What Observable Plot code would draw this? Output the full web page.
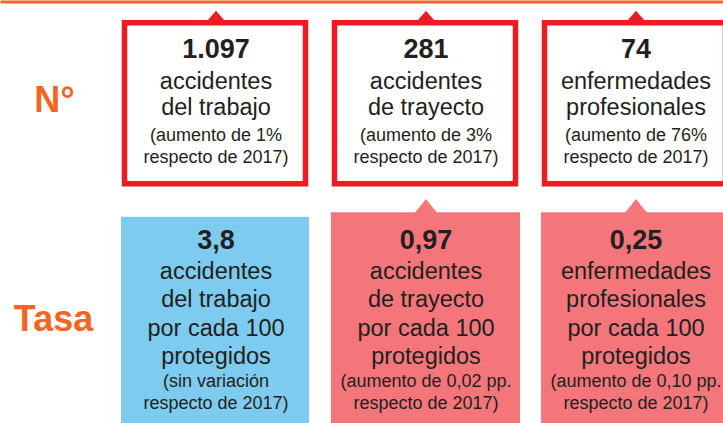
<!DOCTYPE html>
<html>
<head>
<meta charset="utf-8">
<script src="https://cdn.jsdelivr.net/npm/d3@7"></script>
<script src="https://cdn.jsdelivr.net/npm/@observablehq/plot@0.6"></script>
<style>
  html, body { margin: 0; padding: 0; background: #ffffff; }
  #chart { width: 723px; height: 423px; overflow: hidden; }
</style>
</head>
<body>
<div id="chart"></div>
<script>
// ---- data ----
const categories = ["accidentes del trabajo", "accidentes de trayecto", "enfermedades profesionales"];
const rows = ["N°", "Tasa"];

const countValues = ["1.097", "281", "74"];
const countLabels = [
  ["accidentes", "del trabajo"],
  ["accidentes", "de trayecto"],
  ["enfermedades", "profesionales"]
];
const countNotes = [
  ["(aumento de 1%", "respecto de 2017)"],
  ["(aumento de 3%", "respecto de 2017)"],
  ["(aumento de 76%", "respecto de 2017)"]
];
const countTrend = ["aumento", "aumento", "aumento"];

const rateValues = ["3,8", "0,97", "0,25"];
const rateLabels = [
  ["accidentes", "del trabajo", "por cada 100", "protegidos"],
  ["accidentes", "de trayecto", "por cada 100", "protegidos"],
  ["enfermedades", "profesionales", "por cada 100", "protegidos"]
];
const rateNotes = [
  ["(sin variación", "respecto de 2017)"],
  ["(aumento de 0,02 pp.", "respecto de 2017)"],
  ["(aumento de 0,10 pp.", "respecto de 2017)"]
];
const rateTrend = ["sin variación", "aumento", "aumento"];

// ---- table built from the arrays ----
const countBoxes = categories.map((c, i) => ({
  category: c, row: rows[0], value: countValues[i],
  label: countLabels[i].join("\n"), note: countNotes[i].join("\n"), trend: countTrend[i]
}));
const rateBoxes = categories.map((c, i) => ({
  category: c, row: rows[1], value: rateValues[i],
  label: rateLabels[i].join("\n"), note: rateNotes[i].join("\n"), trend: rateTrend[i]
}));

const ORANGE = "#f26522", RED = "#ed1c24", BLUE = "#7dcbee", PINK = "#f4767b", INK = "#231f20";

const upTriangle = (w, h) => ({
  draw(ctx) {
    ctx.moveTo(-w / 2, 2);
    ctx.lineTo(0, -h);
    ctx.lineTo(w / 2, 2);
    ctx.closePath();
  }
});

const chart = Plot.plot({
  width: 723,
  height: 423,
  margin: 0,
  style: {fontFamily: "'Liberation Sans', Arial, Helvetica, sans-serif", background: "#ffffff", color: INK},
  x: {type: "band", domain: categories, range: [120, 730], paddingInner: 0.102, paddingOuter: 0, axis: null},
  y: {type: "band", domain: rows, range: [0, 423], padding: 0, axis: null},
  color: {type: "ordinal", domain: ["sin variación", "aumento"], range: [BLUE, PINK]},
  marks: [
    // orange rule across the top
    Plot.frame({fill: ORANGE, stroke: "none", insetBottom: 420}),

    // row labels
    Plot.text(rows.slice(0, 1), {text: d => d, y: d => d, frameAnchor: "left", dx: 54, textAnchor: "middle",
      lineAnchor: "bottom", dy: 5, fontSize: 36, fontWeight: "bold", fill: ORANGE}),
    Plot.text(rows.slice(1, 2), {text: d => d, y: d => d, frameAnchor: "left", dx: 53, textAnchor: "middle",
      lineAnchor: "bottom", dy: 12.75, fontSize: 36, fontWeight: "bold", fill: ORANGE}),

    // top row: outlined boxes with up triangles
    Plot.dot(countBoxes.filter(d => d.trend === "aumento"), {x: "category", y: "row", r: 10,
      symbol: upTriangle(20, 9.5), fill: RED, stroke: "none", dy: -86.75}),
    Plot.cell(countBoxes, {x: "category", y: "row", fill: "#ffffff", stroke: RED, strokeWidth: 5.5,
      insetTop: 21.75, insetBottom: 28.25, insetLeft: 3.5, insetRight: 4.5}),
    Plot.text(countBoxes, {x: "category", y: "row", text: "value", fontSize: 27, fontWeight: "bold",
      fill: INK, lineAnchor: "bottom", dy: -48.75}),
    Plot.text(countBoxes, {x: "category", y: "row", text: "label", fontSize: 23.5, lineHeight: 1.13,
      fill: INK, lineAnchor: "bottom", dy: 8.25}),
    Plot.text(countBoxes, {x: "category", y: "row", text: "note", fontSize: 18, lineHeight: 1.24,
      fill: INK, lineAnchor: "bottom", dy: 55.9}),

    // bottom row: filled boxes
    Plot.dot(rateBoxes.filter(d => d.trend === "aumento"), {x: "category", y: "row", r: 12,
      symbol: upTriangle(25, 13.4), fill: "trend", stroke: "none", dy: -105.55}),
    Plot.cell(rateBoxes.filter(d => d.trend === "aumento"), {x: "category", y: "row", fill: "trend",
      insetTop: 0.3, insetBottom: 0}),
    Plot.cell(rateBoxes.filter(d => d.trend !== "aumento"), {x: "category", y: "row", fill: "trend",
      insetTop: 4.8, insetBottom: 0, insetRight: 1}),
    Plot.text(rateBoxes, {x: "category", y: "row", text: "value", fontSize: 27, fontWeight: "bold",
      fill: INK, lineAnchor: "bottom", dy: -68.95}),
    Plot.text(rateBoxes, {x: "category", y: "row", text: "label", fontSize: 23.5, lineHeight: 1.205,
      fill: INK, lineAnchor: "bottom", dy: 46.05}),
    Plot.text(rateBoxes, {x: "category", y: "row", text: "note", fontSize: 18, lineHeight: 1.2,
      fill: INK, lineAnchor: "bottom", dy: 91.05})
  ]
});

document.getElementById("chart").append(chart);
</script>
</body>
</html>
